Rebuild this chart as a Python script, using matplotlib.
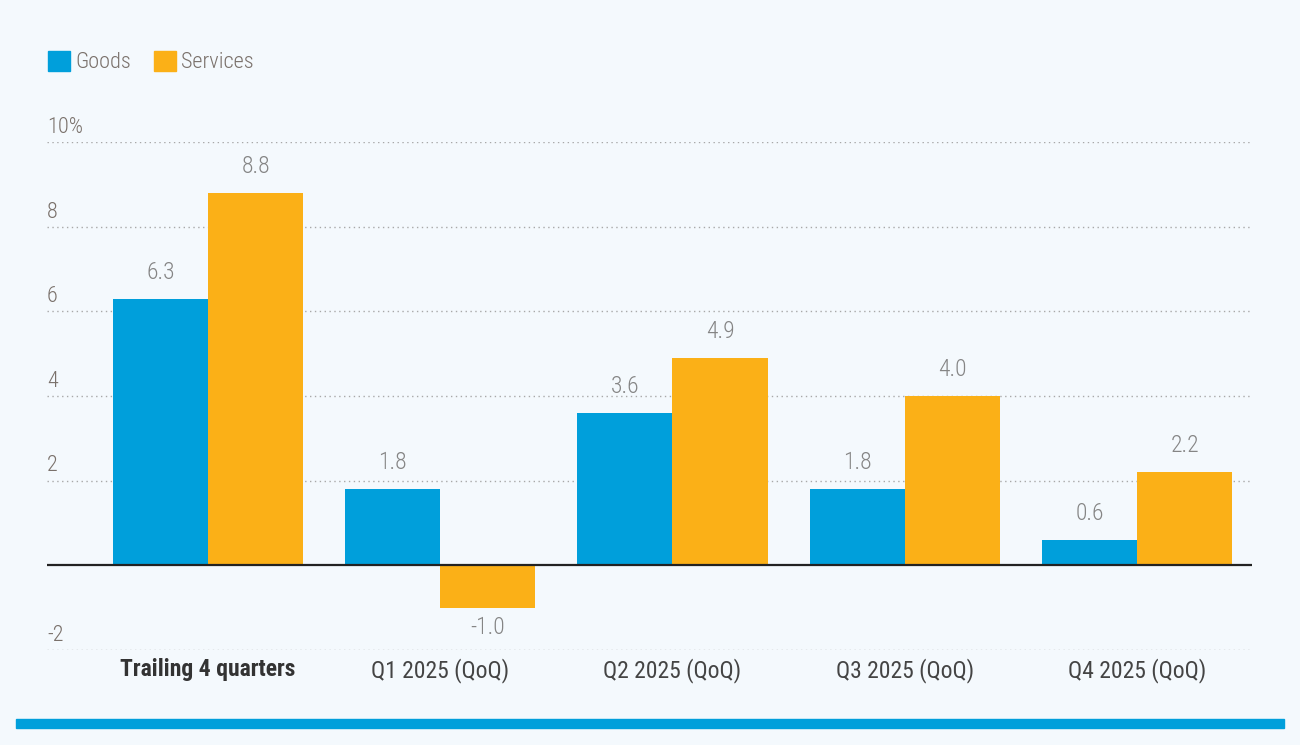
import matplotlib
matplotlib.use("Agg")
from matplotlib import pyplot as plt
from matplotlib import font_manager
from matplotlib.patches import Patch, Rectangle
import matplotlib.transforms as mtransforms
import numpy as np

categories = ["Trailing 4 quarters", "Q1 2025 (QoQ)", "Q2 2025 (QoQ)",
              "Q3 2025 (QoQ)", "Q4 2025 (QoQ)"]
goods = [6.3, 1.8, 3.6, 1.8, 0.6]
services = [8.8, -1.0, 4.9, 4.0, 2.2]
yticks = [-2, 2, 4, 6, 8, 10]
ytick_labels = ["-2", "2", "4", "6", "8", "10%"]

names = {f.name for f in font_manager.fontManager.ttflist}
family = "DejaVu Sans"
for cand in ["Roboto Condensed", "Liberation Sans Narrow", "Roboto", "Liberation Sans"]:
    if cand in names:
        family = cand
        break
plt.rcParams["font.family"] = [family, "DejaVu Sans"]
plt.rcParams["font.weight"] = "light"

bg = "#f4f9fd"
blue = "#009fdb"
orange = "#fbb017"
gray_val = "#858585"
gray_tick = "#7a716b"

fig = plt.figure(figsize=(13, 7.45), dpi=100, facecolor=bg)
ax = fig.add_axes([47 / 1300, 1 - 650 / 745, (1252 - 47) / 1300, (650 - 142) / 745])
ax.set_facecolor(bg)

ind = np.arange(len(categories))
width = 0.41
b1 = ax.bar(ind - width / 2, goods, width, color=blue, label="Goods")
b2 = ax.bar(ind + width / 2, services, width, color=orange, label="Services")

for bars, vals in [(b1, goods), (b2, services)]:
    for rect, v in zip(bars, vals):
        x = rect.get_x() + rect.get_width() / 2
        off = 19 if v >= 0 else -14
        ax.annotate(f"{v:.1f}", (x, v), xytext=(0, off), textcoords="offset points",
                    ha="center", va="center", fontsize=17, color=gray_val)

ax.set_xlim(-0.693, 4.495)
ax.set_ylim(-2, 10)

for y in yticks:
    ax.axhline(y, color="#a8a8a8", lw=1, ls=(0, (1, 2.5)), zorder=0)
ax.axhline(0, color="#222222", lw=1.6, zorder=3)

trans = mtransforms.blended_transform_factory(ax.transAxes, ax.transData)
for y, lab in zip(yticks, ytick_labels):
    ax.annotate(lab, (0, y), xycoords=trans, xytext=(0, 3), textcoords="offset points",
                ha="left", va="bottom", fontsize=16, color=gray_tick)

ax.set_yticks([])
ax.set_xticks(ind)
ax.set_xticklabels(categories, fontsize=17, color="#444444", fontweight="normal")
ax.get_xticklabels()[0].set_fontweight("bold")
ax.get_xticklabels()[0].set_color("#333333")
ax.tick_params(axis="x", length=0, pad=6)
for s in ax.spines.values():
    s.set_visible(False)

handles = [Patch(color=blue, label="Goods"), Patch(color=orange, label="Services")]
leg = fig.legend(handles=handles, loc="upper left", bbox_to_anchor=(39 / 1300, 1 - 42 / 745),
                 ncol=2, frameon=False, fontsize=16, handlelength=1.0, handleheight=1.0,
                 handletextpad=0.25, columnspacing=1.0, borderaxespad=0)
for t in leg.get_texts():
    t.set_color(gray_tick)

fig.patches.append(Rectangle((16 / 1300, 17 / 745), (1284 - 16) / 1300, 9 / 745,
                             transform=fig.transFigure, color=blue, zorder=5))

fig.savefig("out.png", dpi=100, facecolor=bg)
